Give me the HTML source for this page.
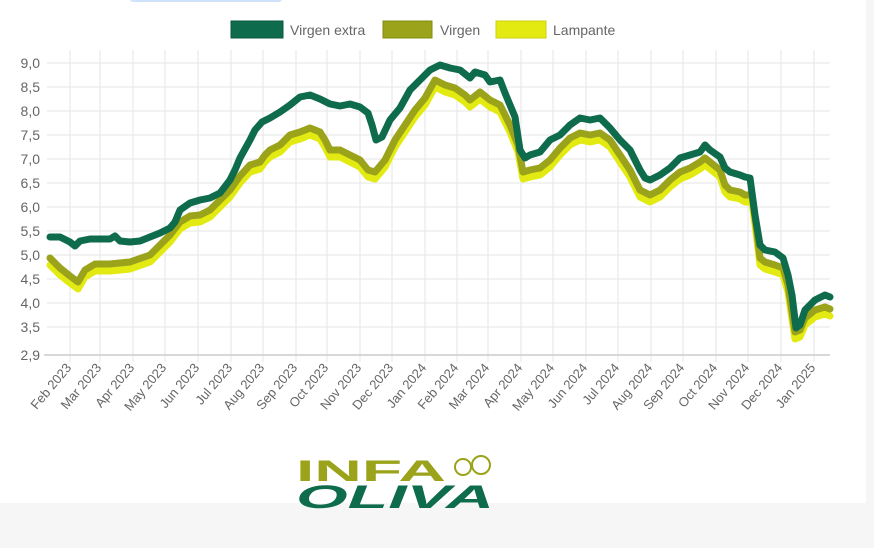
<!DOCTYPE html>
<html><head><meta charset="utf-8"><style>
html,body{margin:0;padding:0;width:874px;height:548px;overflow:hidden;background:#fff;font-family:"Liberation Sans",sans-serif}
</style></head><body>
<svg width="874" height="548" xmlns="http://www.w3.org/2000/svg" style="position:absolute;left:0;top:0">
<rect x="0" y="0" width="874" height="548" fill="#fff"/>
<rect x="0" y="503" width="874" height="45" fill="#f6f6f6"/>
<rect x="866" y="0" width="8" height="548" fill="#f6f6f6"/>
<rect x="130" y="-4" width="152" height="6" rx="3" fill="#cfe3fb"/>
<!-- legend -->
<rect x="231" y="21" width="52" height="17" fill="#0e6b4c" stroke="#0a5a3f"/>
<text x="290" y="35" font-size="14" fill="#666">Virgen extra</text>
<rect x="383" y="21" width="49" height="17" fill="#9aa319" stroke="#838b12"/>
<text x="440" y="35" font-size="14" fill="#666">Virgen</text>
<rect x="496" y="21" width="50" height="17" fill="#e3ea12" stroke="#cbd210"/>
<text x="553" y="35" font-size="14" fill="#666">Lampante</text>
<!-- grid -->
<g stroke="#e5e5e5" stroke-width="1">
<line x1="47" y1="63" x2="830" y2="63"/><line x1="47" y1="87" x2="830" y2="87"/><line x1="47" y1="111" x2="830" y2="111"/><line x1="47" y1="135" x2="830" y2="135"/><line x1="47" y1="159" x2="830" y2="159"/><line x1="47" y1="183" x2="830" y2="183"/><line x1="47" y1="207" x2="830" y2="207"/><line x1="47" y1="231" x2="830" y2="231"/><line x1="47" y1="255" x2="830" y2="255"/><line x1="47" y1="279" x2="830" y2="279"/><line x1="47" y1="303" x2="830" y2="303"/><line x1="47" y1="327" x2="830" y2="327"/>
<g id="vx">
<line x1="70" y1="50" x2="70" y2="362"/><line x1="100" y1="50" x2="100" y2="362"/><line x1="133" y1="50" x2="133" y2="362"/><line x1="165" y1="50" x2="165" y2="362"/><line x1="198" y1="50" x2="198" y2="362"/><line x1="231" y1="50" x2="231" y2="362"/><line x1="263" y1="50" x2="263" y2="362"/><line x1="296" y1="50" x2="296" y2="362"/><line x1="327" y1="50" x2="327" y2="362"/><line x1="360" y1="50" x2="360" y2="362"/><line x1="392" y1="50" x2="392" y2="362"/><line x1="425" y1="50" x2="425" y2="362"/><line x1="457" y1="50" x2="457" y2="362"/><line x1="488" y1="50" x2="488" y2="362"/><line x1="521" y1="50" x2="521" y2="362"/><line x1="553" y1="50" x2="553" y2="362"/><line x1="586" y1="50" x2="586" y2="362"/><line x1="618" y1="50" x2="618" y2="362"/><line x1="651" y1="50" x2="651" y2="362"/><line x1="683" y1="50" x2="683" y2="362"/><line x1="716" y1="50" x2="716" y2="362"/><line x1="748" y1="50" x2="748" y2="362"/><line x1="781" y1="50" x2="781" y2="362"/><line x1="814" y1="50" x2="814" y2="362"/>
</g>
</g>
<line x1="44" y1="355" x2="830" y2="355" stroke="#ccc" stroke-width="1.5"/>
<g font-size="14" fill="#666" text-anchor="end">
<text x="40" y="68">9,0</text><text x="40" y="92">8,5</text><text x="40" y="116">8,0</text><text x="40" y="140">7,5</text><text x="40" y="164">7,0</text><text x="40" y="188">6,5</text><text x="40" y="212">6,0</text><text x="40" y="236">5,5</text><text x="40" y="260">5,0</text><text x="40" y="284">4,5</text><text x="40" y="308">4,0</text><text x="40" y="332">3,5</text><text x="40" y="360">2,9</text>
</g>
<g font-size="13" fill="#666" text-anchor="end">
<text transform="translate(72,368) rotate(-50)">Feb 2023</text>
<text transform="translate(102,368) rotate(-50)">Mar 2023</text>
<text transform="translate(135,368) rotate(-50)">Apr 2023</text>
<text transform="translate(167,368) rotate(-50)">May 2023</text>
<text transform="translate(200,368) rotate(-50)">Jun 2023</text>
<text transform="translate(233,368) rotate(-50)">Jul 2023</text>
<text transform="translate(265,368) rotate(-50)">Aug 2023</text>
<text transform="translate(298,368) rotate(-50)">Sep 2023</text>
<text transform="translate(329,368) rotate(-50)">Oct 2023</text>
<text transform="translate(362,368) rotate(-50)">Nov 2023</text>
<text transform="translate(394,368) rotate(-50)">Dec 2023</text>
<text transform="translate(427,368) rotate(-50)">Jan 2024</text>
<text transform="translate(459,368) rotate(-50)">Feb 2024</text>
<text transform="translate(490,368) rotate(-50)">Mar 2024</text>
<text transform="translate(523,368) rotate(-50)">Apr 2024</text>
<text transform="translate(555,368) rotate(-50)">May 2024</text>
<text transform="translate(588,368) rotate(-50)">Jun 2024</text>
<text transform="translate(620,368) rotate(-50)">Jul 2024</text>
<text transform="translate(653,368) rotate(-50)">Aug 2024</text>
<text transform="translate(685,368) rotate(-50)">Sep 2024</text>
<text transform="translate(718,368) rotate(-50)">Oct 2024</text>
<text transform="translate(750,368) rotate(-50)">Nov 2024</text>
<text transform="translate(783,368) rotate(-50)">Dec 2024</text>
<text transform="translate(816,368) rotate(-50)">Jan 2025</text>
</g>
<g fill="none" stroke-linejoin="round" stroke-linecap="round" stroke-width="7">
<polyline transform="translate(0,7)" stroke="#e3ea12" points="50,258 60,268 70,276 78,282 85,270 95,264 110,264 130,262 150,255 160,245 170,235 180,222 190,216 200,215 210,210 220,200 230,190 240,176 250,165 260,162 265,155 270,150 280,145 290,135 300,132 310,128 320,132 325,140 330,150 340,150 350,155 360,160 368,170 375,172 385,160 395,140 405,125 415,110 425,98 435,80 445,85 455,88 465,95 470,100 480,92 490,100 500,105 510,125 518,145 523,172 530,170 540,168 550,160 560,148 570,138 580,133 590,135 600,133 610,140 620,155 630,170 640,190 650,195 660,190 670,180 680,172 690,168 700,162 705,158 710,162 720,170 725,185 730,190 740,192 745,195 752,195 756,225 760,258 765,262 775,265 783,268 788,285 795,332 800,330 805,318 815,310 825,307 830,309"/>
<polyline stroke="#9aa319" points="50,258 60,268 70,276 78,282 85,270 95,264 110,264 130,262 150,255 160,245 170,235 180,222 190,216 200,215 210,210 220,200 230,190 240,176 250,165 260,162 265,155 270,150 280,145 290,135 300,132 310,128 320,132 325,140 330,150 340,150 350,155 360,160 368,170 375,172 385,160 395,140 405,125 415,110 425,98 435,80 445,85 455,88 465,95 470,100 480,92 490,100 500,105 510,125 518,145 523,172 530,170 540,168 550,160 560,148 570,138 580,133 590,135 600,133 610,140 620,155 630,170 640,190 650,195 660,190 670,180 680,172 690,168 700,162 705,158 710,162 720,170 725,185 730,190 740,192 745,195 752,195 756,225 760,258 765,262 775,265 783,268 788,285 795,332 800,330 805,318 815,310 825,307 830,309"/>
<polyline stroke="#0e6b4c" points="50,237 60,237 70,242 75,246 80,241 90,239 100,239 110,239 115,236 120,241 130,242 140,241 150,237 160,233 170,228 175,222 180,210 190,203 200,200 210,198 220,193 230,180 235,170 240,158 250,140 255,130 262,122 270,118 280,112 290,105 300,97 310,95 320,99 330,104 340,106 350,104 360,107 368,113 372,125 376,140 382,137 390,120 400,108 410,90 420,80 430,70 440,65 450,68 460,70 470,78 475,72 485,75 490,82 500,80 505,93 510,105 515,117 520,150 525,158 530,155 540,152 550,140 560,135 570,125 580,118 590,120 600,118 610,128 620,140 630,150 640,170 645,178 650,180 660,175 670,168 680,158 690,155 700,152 705,145 710,150 720,157 725,168 730,172 740,175 745,177 750,178 755,215 760,245 765,250 775,252 783,258 788,275 792,295 796,328 800,325 805,310 815,300 825,295 830,297"/>
</g>
<!-- logo -->
<text x="296" y="481" font-size="30" font-weight="bold" fill="#9aa319" textLength="150" lengthAdjust="spacingAndGlyphs">INFA</text>
<circle cx="463" cy="467" r="8" fill="none" stroke="#9aa319" stroke-width="2"/>
<circle cx="481" cy="465" r="9" fill="none" stroke="#9aa319" stroke-width="2"/>
<text x="296" y="508" font-size="32" font-weight="bold" font-style="italic" fill="#0e6b4c" textLength="198" lengthAdjust="spacingAndGlyphs">OLIVA</text>
</svg>
</body></html>
